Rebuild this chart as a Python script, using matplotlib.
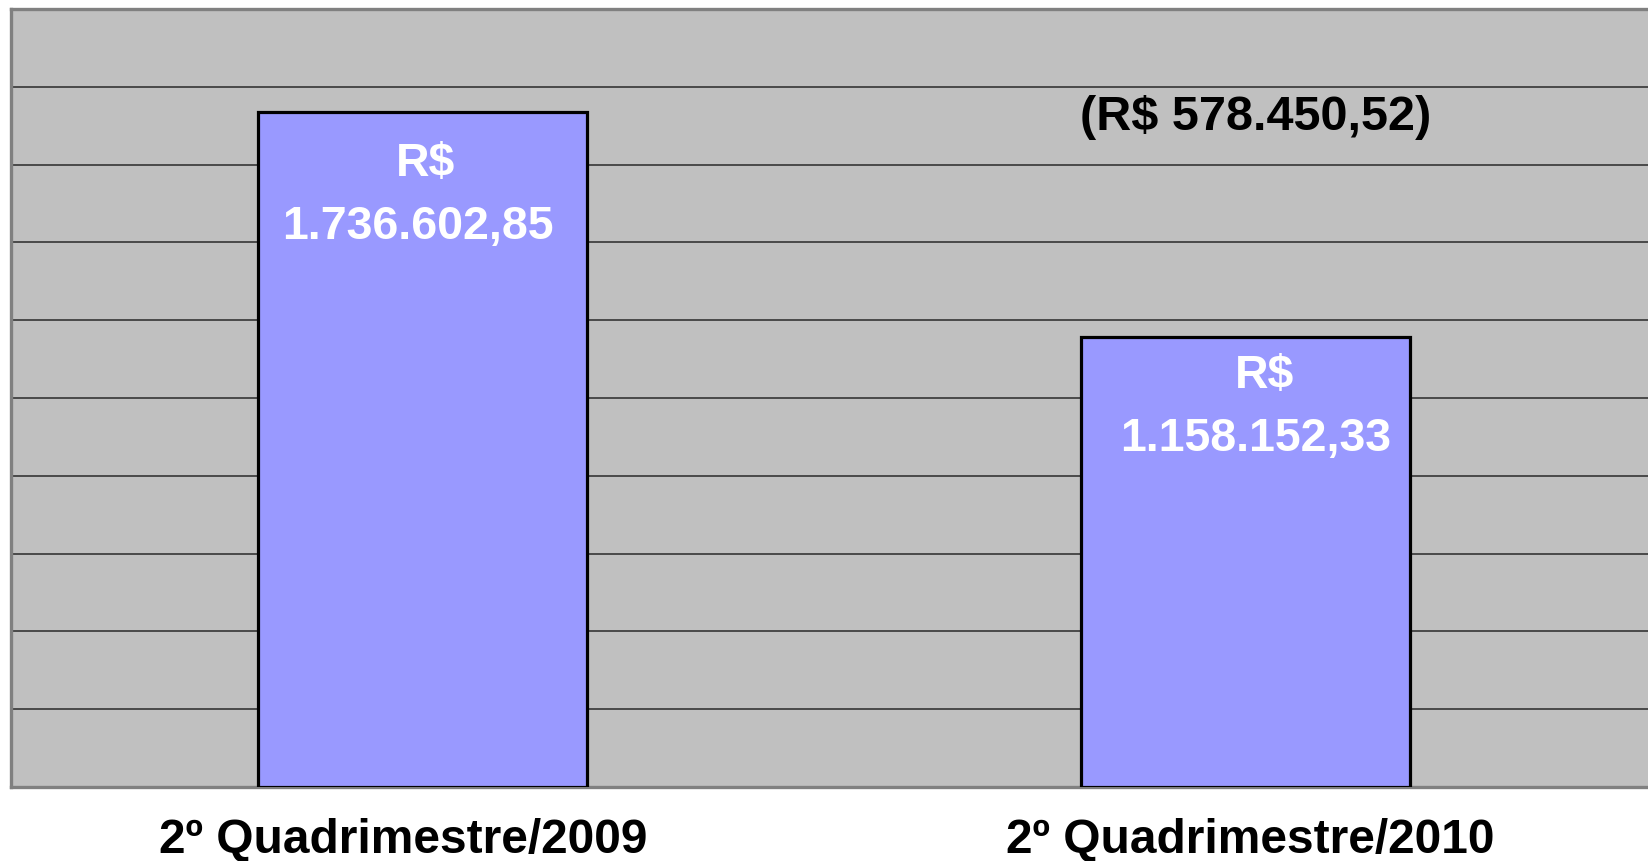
import matplotlib
matplotlib.use("Agg")
import matplotlib.pyplot as plt
import matplotlib.transforms as mtransforms

plt.rcParams['font.family'] = ['Liberation Sans', 'DejaVu Sans']

# data
categories = ['2º Quadrimestre/2009', '2º Quadrimestre/2010']
values = [1736602.85, 1158152.33]

# label placement tweaks (points): x shift of the value text, y of its centre
value_dx = [-3.3, 7.6]
value_dy = [-83, -73.5]
cat_dx = [-13.5, 3.5]


def brl(v):
    # brazilian number format: 1.234.567,89
    s = f"{v:,.2f}"
    return s.replace(',', 'X').replace('.', ',').replace('X', '.')


fig = plt.figure(figsize=(16.48, 8.61), dpi=100)
ax = fig.add_axes([0.0064, 0.0859, 0.9991, 0.9036])
ax.set_facecolor('#C0C0C0')

x = range(len(categories))
ax.bar(x, values, width=0.4, color='#9999FF', edgecolor='black',
       linewidth=2.3, zorder=3)

ax.set_xlim(-0.5, 1.5)
ax.set_ylim(0, 2000000)
ax.set_yticks(range(0, 2000001, 200000))
ax.set_yticklabels([])
ax.yaxis.grid(True, color='#404040', linewidth=1.3, zorder=0)
ax.tick_params(axis='both', length=0)

ax.set_xticks(list(x))
ax.set_xticklabels(categories, fontsize=34.5, fontweight='bold')
ax.tick_params(axis='x', pad=22.5)
for lab, dx in zip(ax.get_xticklabels(), cat_dx):
    lab.set_transform(lab.get_transform() +
                      mtransforms.ScaledTranslation(dx / 72, 0, fig.dpi_scale_trans))

for s in ax.spines.values():
    s.set_color('#808080')
    s.set_linewidth(2.4)

# labels inside the bars
for i, v in enumerate(values):
    ax.annotate('R$', xy=(i, v), xytext=(value_dx[i] + 6, value_dy[i] + 45),
                textcoords='offset points', ha='center', va='center',
                color='white', fontsize=33.5, fontweight='bold', zorder=4)
    ax.annotate(brl(v), xy=(i, v), xytext=(value_dx[i], value_dy[i]),
                textcoords='offset points', ha='center', va='center',
                color='white', fontsize=33.5, fontweight='bold', zorder=4)

# difference between the two periods
diff = values[0] - values[1]
ax.text(1.012, values[0] - 15000, '(R$ ' + brl(diff) + ')', ha='center',
        va='center', fontsize=35, fontweight='bold', color='black', zorder=4)

fig.savefig('out.png', dpi=100)
